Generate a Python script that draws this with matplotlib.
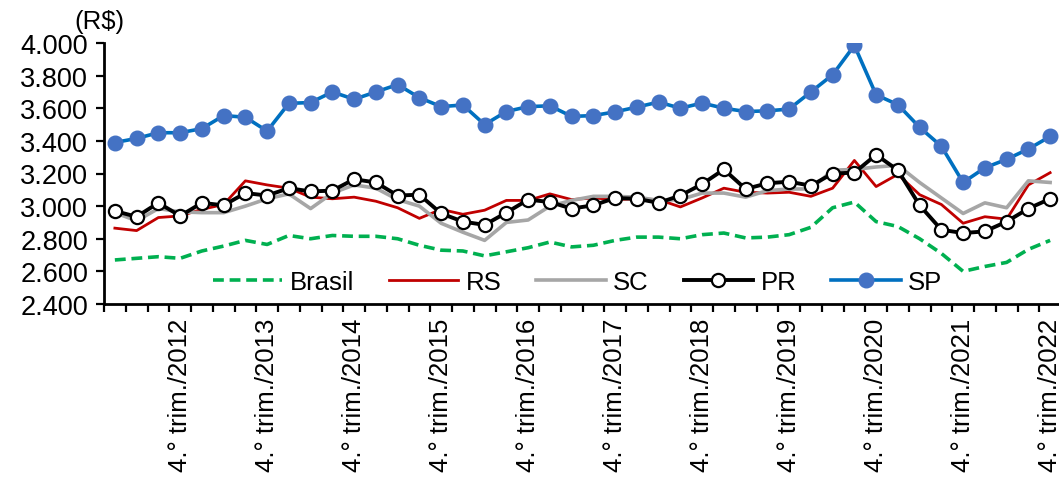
import numpy as np
import matplotlib.pyplot as plt
from matplotlib.ticker import FixedLocator, FuncFormatter

plt.rcParams['font.family'] = ['Liberation Sans', 'DejaVu Sans']

# trimestres: 1.° trim./2012 ... 4.° trim./2022
anos = list(range(2012, 2023))
trimestres = [f"{t}.° trim./{a}" for a in anos for t in (1, 2, 3, 4)]

brasil = [2670, 2680, 2690, 2680, 2725, 2755, 2790, 2765, 2820, 2800, 2820, 2815,
          2815, 2800, 2760, 2730, 2725, 2695, 2720, 2745, 2780, 2750, 2760, 2790,
          2810, 2810, 2800, 2825, 2835, 2805, 2810, 2825, 2870, 2990, 3025, 2905,
          2875, 2800, 2710, 2600, 2630, 2655, 2735, 2790]
rs = [2865, 2850, 2930, 2940, 2980, 3010, 3155, 3130, 3110, 3055, 3045, 3055,
      3030, 2990, 2925, 2980, 2950, 2975, 3035, 3035, 3075, 3040, 3050, 3040,
      3045, 3040, 2995, 3050, 3110, 3085, 3080, 3085, 3060, 3110, 3280, 3120,
      3195, 3070, 3010, 2895, 2935, 2920, 3130, 3205]
sc = [2960, 2910, 2985, 2965, 2960, 2960, 3000, 3045, 3075, 2985, 3080, 3130,
      3110, 3040, 3000, 2895, 2840, 2790, 2900, 2915, 3000, 3035, 3060, 3060,
      3055, 3035, 3040, 3080, 3080, 3055, 3095, 3105, 3105, 3220, 3225, 3240,
      3250, 3145, 3050, 2955, 3020, 2990, 3155, 3145]
pr = [2970, 2935, 3020, 2940, 3020, 3005, 3080, 3065, 3110, 3090, 3095, 3165,
      3145, 3065, 3070, 2955, 2905, 2885, 2960, 3040, 3025, 2985, 3005, 3050,
      3045, 3020, 3065, 3135, 3225, 3105, 3140, 3150, 3125, 3200, 3205, 3315,
      3220, 3005, 2855, 2835, 2845, 2905, 2985, 3045]
sp = [3390, 3415, 3450, 3450, 3475, 3555, 3545, 3460, 3630, 3635, 3700, 3655,
      3700, 3745, 3665, 3610, 3620, 3500, 3580, 3610, 3615, 3550, 3555, 3578,
      3607, 3638, 3600, 3632, 3600, 3580, 3584, 3595, 3700, 3805, 3985, 3682,
      3622, 3483, 3367, 3145, 3235, 3287, 3350, 3427]

x = np.arange(len(trimestres))

fig = plt.figure(figsize=(10.59, 4.81), dpi=100)
ax = fig.add_axes([104 / 1059, 1 - 305 / 481, 957 / 1059, 261 / 481])

ax.plot(x, brasil, color='#00B050', lw=2.6, dashes=(3.0, 1.6), label='Brasil')
ax.plot(x, rs, color='#C00000', lw=2.0, label='RS')
ax.plot(x, sc, color='#A6A6A6', lw=2.6, label='SC')
ax.plot(x, pr, color='black', lw=2.8, marker='o', ms=9.5, mfc='white',
        mec='black', mew=1.6, label='PR')
ax.plot(x, sp, color='#0070C0', lw=2.6, marker='o', ms=10.5, mfc='#4472C4',
        mec='#4472C4', label='SP')

ax.set_xlim(-0.5, len(x) - 0.5)
ax.set_ylim(2400, 4000)
ax.set_yticks(np.arange(2400, 4001, 200))
ax.yaxis.set_major_formatter(FuncFormatter(lambda v, p: f"{int(v):,}".replace(',', '.')))
ax.tick_params(axis='y', length=5.5, width=1.6, direction='out', pad=6, labelsize=19.5)

# rótulos só no 4.° trimestre, marcas entre categorias
quartos = [i for i, t in enumerate(trimestres) if t.startswith('4.')]
ax.set_xticks(quartos)
ax.set_xticklabels([trimestres[i] for i in quartos], rotation=90, fontsize=18.5)
ax.tick_params(axis='x', which='major', length=0, pad=10)
ax.xaxis.set_minor_locator(FixedLocator(np.arange(-0.5, len(x), 1)))
ax.tick_params(axis='x', which='minor', length=5.5, width=1.6, direction='out')

for s in ('top', 'right'):
    ax.spines[s].set_visible(False)
for s in ('left', 'bottom'):
    ax.spines[s].set_linewidth(2)

ax.legend(loc='center', bbox_to_anchor=(0.4948, 0.084), ncol=5, frameon=False,
          fontsize=18.5, handlelength=2.7, handletextpad=0.3, columnspacing=1.35,
          borderpad=0, borderaxespad=0)

fig.text(74 / 1059, 1 - 22 / 481, '(R$)', fontsize=18.5, va='center', ha='left')

fig.savefig('out.png', dpi=100)
